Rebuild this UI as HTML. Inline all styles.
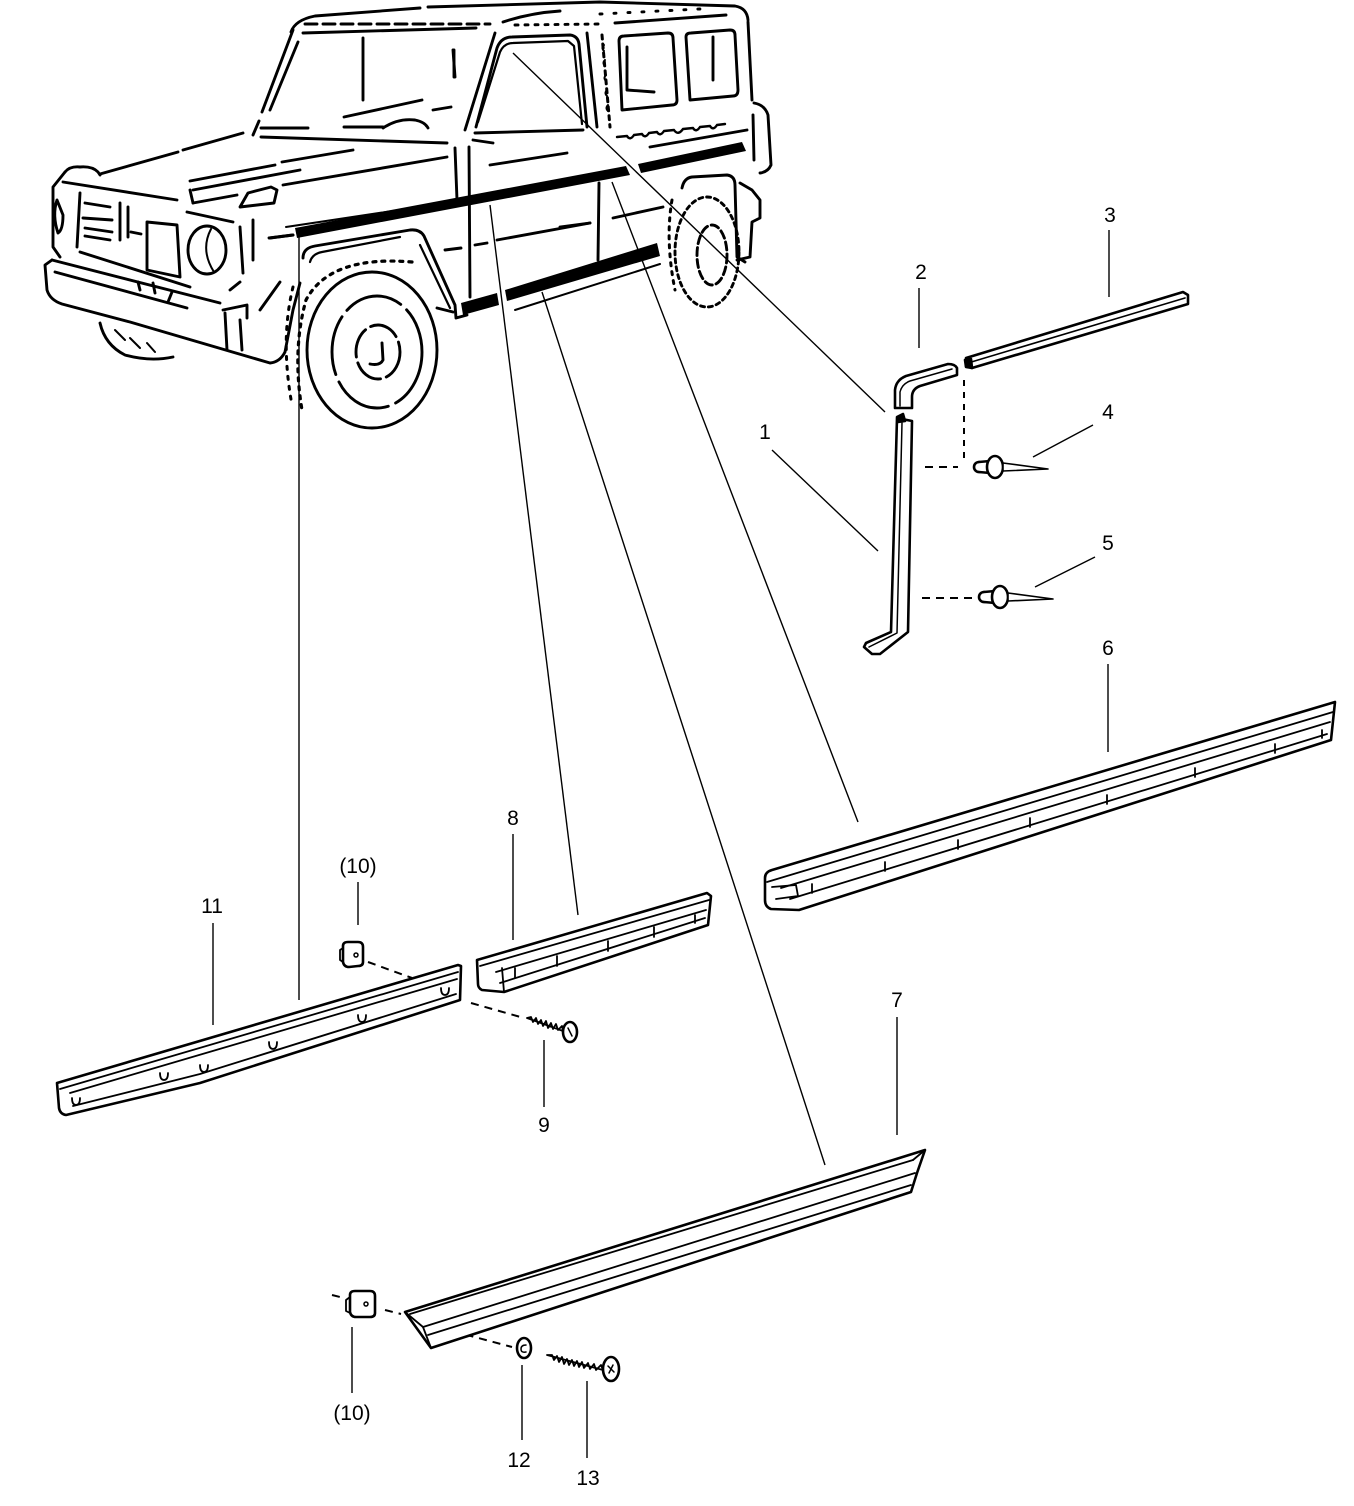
<!DOCTYPE html>
<html><head><meta charset="utf-8"><style>
html,body{margin:0;padding:0;background:#fff;}
svg{display:block;}
text{font-family:"Liberation Sans",Arial,sans-serif;font-size:21px;fill:#000;text-anchor:middle;}
</style></head><body>
<svg width="1354" height="1506" viewBox="0 0 1354 1506" xmlns="http://www.w3.org/2000/svg">
<rect width="1354" height="1506" fill="#fff"/>

<!-- ================= CAR ================= -->
<g stroke="#000" stroke-width="2.9" fill="none" stroke-linecap="round" stroke-linejoin="round">
  <!-- roof -->
  <path d="M291,32 Q295,20 315,16 L420,8"/>
  <path d="M428,7 L600,2 L735,6 Q747,8 748,20"/>
  <path d="M748,22 L752,100"/>
  <path d="M305,24 L490,24" stroke-dasharray="12,6"/>
  <path d="M503,22 Q530,13 560,11"/>
  <path d="M515,25 L598,24" stroke-dasharray="3,7"/>
  <path d="M615,23 L726,15"/>
  <path d="M600,14 L700,9" stroke-dasharray="2,12"/>
  <path d="M303,33 L476,28"/>
  <!-- windshield -->
  <path d="M293,30 L262,112"/>
  <path d="M259,121 L253,135"/>
  <path d="M298,42 L270,110"/>
  <path d="M363,38 L363,100"/>
  <path d="M454,50 L454,77"/>
  <path d="M344,117 L422,100"/>
  <path d="M433,110 L451,107"/>
  <path d="M261,128 L308,128"/>
  <path d="M344,127 L383,127"/>
  <path d="M383,128 Q398,118 415,120 Q425,122 428,128"/>
  <path d="M261,137 L447,143"/>
  <!-- hood -->
  <path d="M243,133 L183,150"/>
  <path d="M178,152 L100,174"/>
  <path d="M190,181 L275,165"/>
  <path d="M282,162 L353,150"/>
  <path d="M283,185 L447,157"/>
  <path d="M193,190 L300,170"/>
  <path d="M193,203 L237,195"/>
  <path d="M187,212 L233,222"/>
  <!-- front door / window -->
  <path d="M495,33 L465,130"/>
  <path d="M476,127 L497,48 Q501,37 512,37 L570,35 Q578,36 579,44 L587,127"/>
  <path d="M478,122 L500,52 Q504,43 513,43 L568,41 L574,46 L582,124" stroke-width="2.2"/>
  <path d="M475,133 L583,130"/>
  <path d="M473,140 L493,143"/>
  <path d="M490,165 L567,153"/>
  <path d="M453,50 L455,77"/>
  <path d="M455,148 L457,200"/>
  <path d="M469,147 L470,297"/>
  <!-- B pillar -->
  <path d="M587,33 L597,127"/>
  <path d="M602,35 L610,127" stroke-dasharray="4,5" stroke-width="3"/>
  <path d="M604,45 q-3,3 0,6 M605,60 q-3,3 0,6 M606,75 q-3,3 0,6 M607,90 q-3,3 0,6 M608,105 q-3,3 0,6" stroke-width="2"/>
  <path d="M599,183 L598,260"/>
  <!-- rear windows -->
  <path d="M622,110 L619,41 Q619,36 624,36 L668,33 Q673,33 673,38 L677,100 Q677,105 672,105 Z"/>
  <path d="M627,47 L627,90 L654,92"/>
  <path d="M690,100 L686,37 Q686,33 691,33 L730,30 Q735,30 735,35 L738,90 Q738,96 733,96 Z"/>
  <path d="M713,37 L713,80"/>
  <!-- rear end -->
  <path d="M754,103 Q765,105 768,115 L771,165 Q768,172 760,173"/>
  <path d="M753,115 L754,160"/>
  <path d="M617,137 l10,-1 q3,5 7,-1 l8,-1 q3,5 7,-1 l8,-1 q3,5 7,-1 l10,-1 q4,6 9,-1 l10,-1 q3,5 7,-1 l10,-1 q3,5 7,-1 l8,-1" stroke-width="2.4"/>
  <path d="M650,147 L747,130"/>
  <!-- body creases -->
  <path d="M286,227 L419,207" stroke-width="2"/>
  <path d="M269,238 L293,235"/>
  <path d="M497,240 L590,223"/>
  <path d="M445,250 L461,248"/>
  <path d="M475,245 L487,243"/>
  <path d="M560,227 L590,223"/>
  <path d="M613,218 L663,207"/>
  <path d="M515,310 L660,264" stroke-width="2"/>
  <!-- front wheel arch -->
  <path d="M303,258 Q303,248 315,246 L410,230 Q420,229 424,236 L455,305 L456,318 L467,315"/>
  <path d="M310,262 Q312,254 322,252 L400,237" stroke-width="2.2"/>
  <path d="M420,245 L450,308" stroke-width="2.2"/>
  <path d="M437,308 L453,312"/>
  <!-- front tire -->
  <ellipse cx="372" cy="350" rx="65" ry="78"/>
  <path d="M412,262 Q330,255 306,300 Q292,350 302,410" stroke-dasharray="3,6" stroke-width="3.2"/>
  <path d="M293,287 Q280,340 292,405" stroke-dasharray="3,7" stroke-width="3"/>
  <ellipse cx="377" cy="352" rx="45" ry="56" stroke-dasharray="60,8"/>
  <ellipse cx="378" cy="352" rx="22" ry="27" stroke-dasharray="30,6"/>
  <path d="M382,343 L383,360 Q380,366 370,364"/>
  <!-- rear wheel -->
  <path d="M682,188 Q684,178 692,177 L727,175 Q735,176 735,185 L737,257 L745,262"/>
  <ellipse cx="707" cy="252" rx="32" ry="55" stroke-dasharray="4,4"/>
  <ellipse cx="712" cy="255" rx="15" ry="30" stroke-dasharray="8,4"/>
  <path d="M740,183 L752,190 L760,200 L760,218 L752,222 L750,257 L737,260"/>
  <path d="M672,200 Q665,240 675,290" stroke-dasharray="3,6" stroke-width="3"/>
  <!-- front end -->
  <path d="M65,172 Q70,166 80,167 Q92,166 98,172 L100,175"/>
  <path d="M65,172 L53,187 L53,247 L60,257"/>
  <path d="M57,200 Q52,215 58,233 Q63,230 63,215 Z"/>
  <path d="M63,182 L177,200"/>
  <path d="M190,190 L193,203"/>
  <path d="M80,193 L77,247"/>
  <path d="M80,252 L190,287"/>
  <path d="M85,203 L110,207"/>
  <path d="M83,218 L112,220"/>
  <path d="M85,228 L112,232"/>
  <path d="M85,236 L110,240"/>
  <path d="M120,203 L120,240"/>
  <path d="M128,207 L128,237"/>
  <path d="M131,232 L141,234"/>
  <path d="M147,222 L177,225 L180,277 L147,270 Z"/>
  <ellipse cx="207" cy="250" rx="19" ry="24"/>
  <path d="M211,229 Q200,250 214,272" stroke-width="2"/>
  <path d="M240,207 L248,193 L271,187 L277,190 L274,203 Z"/>
  <path d="M253,220 L253,260"/>
  <path d="M240,227 L243,273"/>
  <path d="M270,238 L293,235"/>
  <path d="M230,290 L240,282"/>
  <!-- bumper -->
  <path d="M52,260 L45,265 L47,290 Q50,300 62,304 L130,322 L270,363 Q280,362 285,352 L293,310 L300,283"/>
  <path d="M52,260 L220,303"/>
  <path d="M55,272 L187,308"/>
  <path d="M138,282 L140,290"/>
  <path d="M153,283 L155,293"/>
  <path d="M172,292 L168,302"/>
  <path d="M223,310 L247,305 L247,318"/>
  <path d="M225,313 L227,350"/>
  <path d="M240,320 L242,350"/>
  <path d="M260,310 L280,282"/>
  <path d="M100,323 Q105,345 125,355 Q150,362 173,357"/>
  <path d="M115,330 L125,340 M130,338 L140,348 M147,343 L155,352" stroke-width="2"/>
</g>

<!-- stripes -->
<g fill="#000" stroke="none">
  <polygon points="295,228 626,166 630,175 297,238"/>
  <polygon points="638,164 742,142 746,151 641,173"/>
  <polygon points="461,303 497,293 499,305 463,315"/>
  <polygon points="505,290 657,243 660,256 507,301"/>
</g>

<!-- ================= LEADERS ================= -->
<g stroke="#000" stroke-width="1.4" fill="none">
  <line x1="513" y1="53" x2="885" y2="412"/>
  <line x1="299" y1="234" x2="299" y2="1000"/>
  <line x1="490" y1="205" x2="578" y2="915"/>
  <line x1="542" y1="292" x2="825" y2="1165"/>
  <line x1="612" y1="182" x2="858" y2="822"/>
  <line x1="1109" y1="230" x2="1109" y2="297"/>
  <line x1="919" y1="288" x2="919" y2="348"/>
  <line x1="772" y1="450" x2="878" y2="551"/>
  <line x1="1093" y1="425" x2="1033" y2="457"/>
  <line x1="1095" y1="557" x2="1035" y2="587"/>
  <line x1="1108" y1="664" x2="1108" y2="752"/>
  <line x1="513" y1="834" x2="513" y2="940"/>
  <line x1="358" y1="882" x2="358" y2="925"/>
  <line x1="213" y1="923" x2="213" y2="1025"/>
  <line x1="544" y1="1040" x2="544" y2="1107"/>
  <line x1="897" y1="1017" x2="897" y2="1135"/>
  <line x1="352" y1="1327" x2="352" y2="1393"/>
  <line x1="522" y1="1365" x2="522" y2="1440"/>
  <line x1="587" y1="1381" x2="587" y2="1458"/>
</g>

<!-- dashed assembly lines -->
<g stroke="#000" stroke-width="2" fill="none" stroke-dasharray="8,6">
  <line x1="964" y1="380" x2="964" y2="462" stroke-dasharray="6,6"/>
  <line x1="925" y1="467" x2="958" y2="467"/>
  <line x1="922" y1="598" x2="978" y2="598"/>
  <line x1="368" y1="962" x2="412" y2="978"/>
  <line x1="471" y1="1003" x2="524" y2="1018"/>
  <line x1="332" y1="1295" x2="344" y2="1298"/>
  <line x1="385" y1="1310" x2="401" y2="1314"/>
  <line x1="452" y1="1331" x2="512" y2="1347"/>
</g>

<!-- ================= PARTS ================= -->
<g stroke="#000" stroke-width="2.6" fill="#fff" stroke-linejoin="round" stroke-linecap="round">
  <!-- part 3 -->
  <path d="M966,358 L1183,292 L1188,295 L1188,304 L972,368 L966,366 Z"/>
  <path d="M968,363 L1185,298" fill="none" stroke-width="1.6"/>
  <path d="M965,360 L971,359 L972,368 L966,367 Z" fill="#000"/>
  <!-- part 2 -->
  <path d="M895,408 L895,390 Q896,380 906,376 L948,364 Q955,364 957,368 L957,375 L920,386 Q912,389 912,397 L912,408 Z"/>
  <path d="M900,406 L900,392 Q902,384 910,381 L952,369" fill="none" stroke-width="1.5"/>
  <!-- part 1 -->
  <path d="M897,418 L912,421 L908,632 L880,654 L872,654 L864,647 L866,643 L891,632 Z"/>
  <path d="M902,423 L897,633 L869,647" fill="none" stroke-width="1.5"/>
  <path d="M897,417 L903,414 L905,421 L898,422 Z" fill="#000"/>
  <!-- part 4 -->
  <ellipse cx="979" cy="467" rx="5" ry="5"/>
  <path d="M979,462 L990,461 L990,473 L979,472"/>
  <ellipse cx="995" cy="467" rx="8" ry="11"/>
  <path d="M1003,463 L1048,469 L1003,471 Z" fill="#fff" stroke-width="1.6"/>
  <!-- part 5 -->
  <ellipse cx="984" cy="597" rx="5" ry="5"/>
  <path d="M984,592 L995,591 L995,603 L984,602"/>
  <ellipse cx="1000" cy="597" rx="8" ry="11"/>
  <path d="M1008,593 L1053,599 L1008,601 Z" fill="#fff" stroke-width="1.6"/>

  <!-- part 6 -->
  <path d="M765,878 Q765,872 772,870 L1335,702 L1331,740 L799,910 L771,909 Q765,907 765,900 Z"/>
  <g fill="none" stroke-width="1.8">
    <path d="M767,882 L1333,712"/>
    <path d="M781,888 L1330,722"/>
    <path d="M790,899 L1327,734"/>
    <path d="M772,887 L796,885 L798,896 L776,899"/>
    <path d="M812,884 L812,893 M885,862 L885,871 M958,840 L958,849 M1030,818 L1030,827 M1107,795 L1107,804 M1195,768 L1195,777 M1275,744 L1275,753 M1322,730 L1322,738"/>
  </g>
  <!-- part 8 -->
  <path d="M477,960 L707,893 L711,896 L708,925 L504,992 L482,990 Q478,988 478,984 Z"/>
  <g fill="none" stroke-width="1.8">
    <path d="M480,966 L709,900"/>
    <path d="M496,972 L706,910"/>
    <path d="M500,983 L705,918"/>
    <path d="M502,968 L504,992"/>
    <path d="M515,968 L515,978 M557,956 L557,966 M608,941 L608,951 M654,927 L654,937 M695,915 L695,923"/>
  </g>
  <!-- part 11 -->
  <path d="M57,1083 L458,965 L461,966 L460,1000 L200,1083 L66,1115 Q60,1114 59,1108 Z"/>
  <g fill="none" stroke-width="1.8">
    <path d="M60,1089 L458,972"/>
    <path d="M70,1093 L457,979"/>
    <path d="M73,1106 L200,1074 L456,994"/>
    <path d="M72,1098 q0,7 4,7 q4,0 4,-7"/>
    <path d="M160,1073 q0,7 4,7 q4,0 4,-7"/>
    <path d="M200,1065 q0,7 4,7 q4,0 4,-7"/>
    <path d="M269,1042 q0,7 4,7 q4,0 4,-7"/>
    <path d="M358,1015 q0,7 4,7 q4,0 4,-7"/>
    <path d="M441,988 q0,7 4,7 q4,0 4,-7"/>
  </g>
  <!-- clip 10 top -->
  <path d="M343,946 Q343,942 348,942 L358,942 Q363,942 363,947 L363,962 Q363,966 358,966 L349,967 Q344,967 343,962 Z"/>
  <path d="M343,948 L340,950 L340,960 L343,962" fill="none" stroke-width="1.8"/>
  <circle cx="356" cy="955" r="2" fill="none" stroke-width="1.5"/>
  <!-- screw 9 -->
  <path d="M527,1018 L531,1017 L533,1022 L536,1018 L538,1024 L541,1020 L543,1026 L546,1021 L548,1028 L551,1023 L553,1029 L556,1024 L558,1030 L562,1026 L563,1031 L527,1018" fill="#fff" stroke-width="1.8"/>
  <ellipse cx="570" cy="1032" rx="7" ry="10"/>
  <path d="M568,1028 L572,1036" fill="none" stroke-width="1.5"/>

  <!-- part 7 -->
  <path d="M405,1312 L925,1150 L917,1173 L911,1192 L431,1348 Z"/>
  <g fill="none" stroke-width="1.8">
    <path d="M410,1314 L913,1160"/>
    <path d="M423,1327 L915,1173"/>
    <path d="M428,1335 L911,1185"/>
    <path d="M405,1312 L423,1327 L431,1348"/>
    <path d="M913,1160 L925,1150"/>
  </g>
  <!-- clip 10 bottom -->
  <path d="M350,1295 Q350,1291 355,1291 L370,1291 Q375,1291 375,1296 L375,1313 Q375,1317 370,1317 L356,1317 Q351,1317 350,1312 Z"/>
  <path d="M350,1297 L346,1300 L346,1311 L350,1313" fill="none" stroke-width="1.8"/>
  <circle cx="366" cy="1304" r="2" fill="none" stroke-width="1.5"/>
  <!-- washer 12 -->
  <ellipse cx="524" cy="1348" rx="7" ry="10"/>
  <path d="M526,1345 Q521,1345 521,1349 Q521,1353 526,1352" fill="none" stroke-width="1.5"/>
  <!-- screw 13 -->
  <path d="M547,1355 L552,1355 L554,1360 L557,1356 L559,1362 L562,1357 L564,1364 L567,1359 L569,1365 L572,1360 L574,1366 L577,1361 L579,1367 L582,1362 L584,1368 L588,1363 L590,1369 L594,1364 L596,1370 L601,1365 L603,1370 L547,1355" fill="#fff" stroke-width="1.8"/>
  <ellipse cx="611" cy="1369" rx="8" ry="12"/>
  <path d="M608,1366 L614,1372 M613,1365 L609,1373" fill="none" stroke-width="1.5"/>
</g>

<!-- ================= LABELS ================= -->
<text x="1110" y="222">3</text>
<text x="921" y="279">2</text>
<text x="765" y="439">1</text>
<text x="1108" y="419">4</text>
<text x="1108" y="550">5</text>
<text x="1108" y="655">6</text>
<text x="513" y="825">8</text>
<text x="358" y="873">(10)</text>
<text x="212" y="913">11</text>
<text x="544" y="1132">9</text>
<text x="897" y="1007">7</text>
<text x="352" y="1420">(10)</text>
<text x="519" y="1467">12</text>
<text x="588" y="1485">13</text>
</svg>
</body></html>
